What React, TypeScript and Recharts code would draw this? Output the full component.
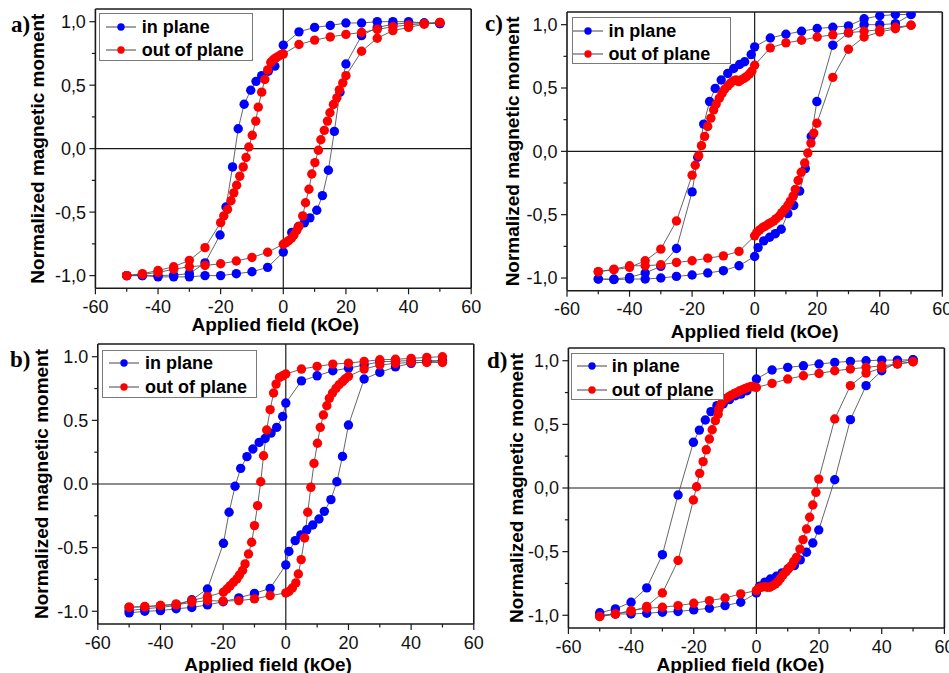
import React from 'react';
import { LineChart, Line, XAxis, YAxis, ReferenceLine, Legend, Label } from 'recharts';

type Pt = [number, number];

// ---------- axis / labels ----------
const xMajor = [-60, -40, -20, 0, 20, 40, 60];
const xMinor = [-50, -30, -10, 10, 30, 50];
const yMajor = [-1, -0.5, 0, 0.5, 1];
const yMinor = [-0.75, -0.25, 0.25, 0.75];
const xDomain: [number, number] = [-60, 60];
const yDomain: [number, number] = [-1.1, 1.1];
const seriesNames = ['in plane', 'out of plane'];
const seriesColors = ['#0000ff', '#ff0000'];
const xTitle = 'Applied field (kOe)';
const yTitle = 'Normalized magnetic moment';
const panelLetters = ['a)', 'b)', 'c)', 'd)'];

// ---------- panel a ----------
const aInDown: Pt[] = [[50,0.985],[45,0.99],[40,1.0],[35,1.0],[30,1.0],[25,0.99],[20,0.99],[15,0.97],[10,0.955],[5,0.92],[0,0.815],[-2.7,0.65],[-4.8,0.61],[-6.9,0.575],[-8.7,0.53],[-10.4,0.46],[-12.5,0.35],[-14.4,0.157],[-16.2,-0.144],[-18.3,-0.46],[-20.2,-0.68],[-25,-0.9],[-30,-0.985],[-35,-0.996],[-40,-1.0],[-45,-1.0],[-50,-1.0]];
const aInUp: Pt[] = [[-50,-1.0],[-45,-1.0],[-40,-1.01],[-35,-1.01],[-30,-1.01],[-25,-1.0],[-20,-1.0],[-15,-0.985],[-10,-0.97],[-5,-0.935],[0,-0.815],[2.7,-0.66],[4.8,-0.615],[6.7,-0.585],[8.5,-0.545],[10.7,-0.485],[12.5,-0.37],[14.4,-0.17],[16.3,0.136],[18.1,0.445],[20,0.667],[25,0.89],[30,0.955],[35,0.98],[40,0.99],[45,0.99],[50,0.985]];
const aOutDown: Pt[] = [[50,0.995],[45,0.985],[40,0.975],[35,0.96],[30,0.94],[25,0.915],[20,0.9],[15,0.88],[10,0.855],[5,0.82],[0,0.745],[-0.8,0.74],[-1.6,0.727],[-2.4,0.715],[-3.2,0.7],[-4.0,0.68],[-5,0.62],[-5.9,0.545],[-6.9,0.445],[-8,0.327],[-8.8,0.217],[-9.9,0.105],[-11,0.013],[-11.9,-0.07],[-12.8,-0.144],[-13.9,-0.217],[-14.9,-0.288],[-15.8,-0.348],[-16.7,-0.41],[-17.8,-0.478],[-19,-0.53],[-20,-0.583],[-25,-0.78],[-30,-0.88],[-35,-0.93],[-40,-0.96],[-45,-0.985],[-50,-1.0]];
const aOutUp: Pt[] = [[-50,-1.0],[-45,-0.99],[-40,-0.975],[-35,-0.95],[-30,-0.93],[-25,-0.92],[-20,-0.907],[-15,-0.885],[-10,-0.857],[-5,-0.816],[0,-0.753],[0.9,-0.74],[1.7,-0.725],[2.6,-0.706],[3.4,-0.68],[4.3,-0.645],[5,-0.61],[6.2,-0.53],[7.1,-0.426],[8.2,-0.32],[9.1,-0.2],[10.1,-0.11],[11.2,-0.013],[12,0.07],[13.1,0.144],[14.1,0.217],[14.9,0.283],[16,0.348],[17.1,0.4],[17.9,0.463],[19,0.518],[20,0.575],[25,0.767],[30,0.87],[35,0.93],[40,0.955],[45,0.98],[50,0.995]];

// ---------- panel b ----------
const bInDown: Pt[] = [[50,0.968],[45,0.97],[40,0.97],[35,0.965],[30,0.96],[25,0.935],[20,0.91],[15,0.89],[10,0.85],[5,0.81],[0,0.636],[-1,0.53],[-2.9,0.445],[-4.7,0.4],[-6.6,0.358],[-8.5,0.327],[-10.5,0.275],[-12.4,0.215],[-14.4,0.123],[-16.2,-0.018],[-18.1,-0.222],[-19.9,-0.466],[-25,-0.825],[-30,-0.91],[-35,-0.955],[-40,-0.97],[-45,-0.98],[-50,-0.995]];
const bInUp: Pt[] = [[-50,-1.013],[-45,-1.0],[-40,-0.995],[-35,-0.98],[-30,-0.97],[-25,-0.95],[-20,-0.925],[-15,-0.895],[-10,-0.86],[-5,-0.82],[0,-0.636],[1,-0.53],[3,-0.445],[4.8,-0.4],[6.7,-0.36],[8.6,-0.322],[10.6,-0.275],[12.3,-0.215],[14.4,-0.123],[16.3,0.018],[18.1,0.217],[20,0.463],[25,0.825],[30,0.877],[35,0.92],[40,0.948],[45,0.96],[50,0.968]];
const bOutDown: Pt[] = [[50,1.0],[45,0.995],[40,0.987],[35,0.98],[30,0.976],[25,0.963],[20,0.95],[15,0.942],[10,0.924],[5,0.903],[0,0.864],[-1,0.85],[-2,0.838],[-3.1,0.785],[-3.9,0.715],[-5,0.584],[-6.1,0.424],[-7.1,0.222],[-8,0.018],[-9,-0.17],[-10,-0.327],[-10.9,-0.458],[-11.9,-0.55],[-13,-0.628],[-13.8,-0.68],[-14.8,-0.715],[-15.6,-0.746],[-16.7,-0.772],[-17.8,-0.8],[-18.8,-0.825],[-19.9,-0.85],[-25,-0.885],[-30,-0.916],[-35,-0.942],[-40,-0.955],[-45,-0.963],[-50,-0.968]];
const bOutUp: Pt[] = [[-50,-0.968],[-45,-0.965],[-40,-0.955],[-35,-0.95],[-30,-0.93],[-25,-0.916],[-20,-0.92],[-15,-0.916],[-10,-0.903],[-5,-0.877],[0,-0.856],[1,-0.845],[2.1,-0.817],[3.2,-0.777],[4,-0.707],[4.9,-0.594],[6,-0.424],[7,-0.222],[8,-0.026],[9,0.162],[10.1,0.32],[11,0.445],[12,0.542],[13.1,0.615],[13.9,0.673],[14.9,0.715],[16,0.751],[17,0.78],[18.1,0.804],[18.9,0.825],[20,0.846],[25,0.903],[30,0.935],[35,0.948],[40,0.955],[45,0.955],[50,0.955]];

// ---------- panel c ----------
const cInDown: Pt[] = [[50,1.08],[45,1.08],[40,1.07],[35,1.047],[30,0.99],[25,0.98],[20,0.97],[15,0.948],[10,0.924],[5,0.895],[0,0.825],[-1.1,0.764],[-3.2,0.707],[-4.8,0.686],[-6.7,0.654],[-8.6,0.615],[-10.7,0.563],[-12.6,0.497],[-14.4,0.393],[-16.3,0.215],[-18.2,-0.047],[-20,-0.32],[-25,-0.767],[-30,-0.908],[-35,-0.96],[-40,-0.995],[-45,-1.008],[-50,-1.008]];
const cInUp: Pt[] = [[-50,-1.008],[-45,-1.013],[-40,-1.008],[-35,-1.008],[-30,-1.0],[-25,-0.987],[-20,-0.976],[-15,-0.96],[-10,-0.942],[-5,-0.903],[0,-0.83],[1.1,-0.76],[2.9,-0.707],[4.8,-0.678],[6.6,-0.65],[8.5,-0.615],[10.6,-0.492],[12.5,-0.427],[14.4,-0.314],[16.2,-0.136],[18.1,0.118],[19.9,0.393],[25,0.838],[30,0.935],[35,1.0],[40,1.0],[45,1.008],[50,1.08]];
const cOutDown: Pt[] = [[50,0.995],[45,0.98],[40,0.96],[35,0.948],[30,0.937],[25,0.92],[20,0.903],[15,0.877],[10,0.856],[5,0.817],[0,0.68],[-0.9,0.633],[-1.7,0.61],[-2.6,0.59],[-3.4,0.576],[-4.4,0.563],[-5.1,0.55],[-6,0.563],[-6.9,0.555],[-7.8,0.537],[-8.6,0.516],[-9.6,0.49],[-10.4,0.458],[-11.3,0.42],[-12.3,0.374],[-13.1,0.327],[-14,0.262],[-15,0.196],[-16,0.118],[-17,0.045],[-17.9,-0.034],[-19,-0.11],[-20,-0.188],[-25,-0.55],[-30,-0.772],[-35,-0.864],[-40,-0.916],[-45,-0.935],[-50,-0.95]];
const cOutUp: Pt[] = [[-50,-0.95],[-45,-0.93],[-40,-0.903],[-35,-0.903],[-30,-0.895],[-25,-0.877],[-20,-0.864],[-15,-0.843],[-10,-0.825],[-5,-0.79],[0,-0.667],[0.7,-0.64],[1.6,-0.62],[2.6,-0.6],[3.4,-0.59],[4.3,-0.576],[5.2,-0.563],[6.1,-0.55],[6.9,-0.531],[7.9,-0.51],[8.7,-0.484],[9.6,-0.458],[10.6,-0.427],[11.4,-0.393],[12.3,-0.353],[13,-0.3],[13.9,-0.23],[14.9,-0.165],[16,-0.092],[17,-0.013],[18,0.065],[18.9,0.144],[19.9,0.222],[25,0.584],[30,0.806],[35,0.903],[40,0.942],[45,0.968],[50,0.995]];

// ---------- panel d ----------
const dInDown: Pt[] = [[50,1.008],[45,1.005],[40,1.005],[35,1.0],[30,0.995],[25,0.987],[20,0.974],[15,0.96],[10,0.948],[5,0.927],[0,0.856],[-3,0.764],[-4.9,0.738],[-6.7,0.725],[-8.6,0.694],[-10.6,0.66],[-12.6,0.647],[-14.5,0.6],[-16.3,0.534],[-18.2,0.455],[-20.1,0.359],[-25,-0.055],[-30,-0.524],[-35,-0.785],[-40,-0.898],[-45,-0.95],[-50,-0.98]];
const dInUp: Pt[] = [[-50,-1.0],[-45,-0.99],[-40,-0.99],[-35,-0.984],[-30,-0.976],[-25,-0.97],[-20,-0.958],[-15,-0.945],[-10,-0.924],[-5,-0.898],[0,-0.825],[1,-0.772],[2.7,-0.74],[4.5,-0.715],[6.4,-0.694],[8.2,-0.667],[10.1,-0.636],[12.1,-0.61],[14,-0.565],[16,-0.505],[18,-0.432],[19.9,-0.33],[25,0.065],[30,0.537],[35,0.804],[40,0.921],[45,0.987],[50,1.008]];
const dOutDown: Pt[] = [[50,0.992],[45,0.974],[40,0.96],[35,0.948],[30,0.935],[25,0.921],[20,0.9],[15,0.882],[10,0.856],[5,0.822],[0,0.79],[-0.9,0.796],[-1.7,0.798],[-2.7,0.79],[-3.5,0.783],[-4.4,0.772],[-5.3,0.764],[-6.2,0.751],[-7,0.743],[-8,0.73],[-8.8,0.717],[-9.7,0.704],[-10.6,0.686],[-11.3,0.66],[-12,0.62],[-12.2,0.58],[-13.1,0.529],[-14.1,0.458],[-15,0.385],[-16,0.3],[-17,0.207],[-18.1,0.115],[-19.1,0.01],[-20.1,-0.094],[-25,-0.57],[-30,-0.825],[-35,-0.93],[-40,-0.97],[-45,-0.99],[-50,-1.01]];
const dOutUp: Pt[] = [[-50,-1.01],[-45,-0.99],[-40,-0.963],[-35,-0.945],[-30,-0.937],[-25,-0.924],[-20,-0.906],[-15,-0.885],[-10,-0.864],[-5,-0.832],[0,-0.806],[0.7,-0.788],[1.6,-0.78],[2.6,-0.775],[3.4,-0.78],[4.3,-0.78],[5.2,-0.767],[6.1,-0.754],[6.9,-0.736],[7.7,-0.71],[8.5,-0.683],[9.5,-0.657],[10.3,-0.631],[11.2,-0.61],[11.9,-0.578],[12.8,-0.545],[13.9,-0.48],[14.9,-0.406],[16,-0.322],[17,-0.23],[18,-0.134],[19,-0.034],[19.9,0.07],[25,0.542],[30,0.804],[35,0.903],[40,0.942],[45,0.974],[50,0.992]];

// ---------- styling ----------
const SANS = '"Liberation Sans", Arial, Helvetica, sans-serif';
const SERIF = '"Liberation Serif", "Times New Roman", serif';
const AXIS = '#1a1a1a';

const toLoop = (down: Pt[], up: Pt[]) => [...down, ...up].map(([x, y]) => ({ x, y }));

type Cfg = {
  L: number; R: number; T: number; B: number;
  yTitleX: number; xTitleOff: number; xTitleDx: number;
  dec: string;
  leg: { left: number; top: number; w: number; h: number; sym: number; text: number };
  letter: { x: number; y: number };
  inLoop: { x: number; y: number }[];
  outLoop: { x: number; y: number }[];
};

const panels: Cfg[] = [
  { L: 95.7, R: 471.5, T: 9, B: 288.3, yTitleX: 37.5, xTitleOff: 35.5, xTitleDx: -8, dec: ',',
    leg: { left: 99.3, top: 13.3, w: 154, h: 47.4, sym: 7, text: 42.4 }, letter: { x: 11, y: 31.5 },
    inLoop: toLoop(aInDown, aInUp), outLoop: toLoop(aOutDown, aOutUp) },
  { L: 97.7, R: 473.7, T: 344.3, B: 624.3, yTitleX: 40.8, xTitleOff: 40.2, xTitleDx: -17.7, dec: '.',
    leg: { left: 101.7, top: 350, w: 155.6, h: 47.7, sym: 7.3, text: 43.3 }, letter: { x: 10, y: 367 },
    inLoop: toLoop(bInDown, bInUp), outLoop: toLoop(bOutDown, bOutUp) },
  { L: 566.7, R: 942, T: 12.3, B: 291, yTitleX: 511.7, xTitleOff: 40.5, xTitleDx: 0, dec: ',',
    leg: { left: 571.7, top: 17.3, w: 159.3, h: 46.7, sym: 1.3, text: 36.7 }, letter: { x: 485, y: 30.5 },
    inLoop: toLoop(cInDown, cInUp), outLoop: toLoop(cOutDown, cOutUp) },
  { L: 568, R: 944, T: 348.3, B: 628.3, yTitleX: 516.3, xTitleOff: 36.2, xTitleDx: -16, dec: ',',
    leg: { left: 570.7, top: 352.7, w: 153.6, h: 47.3, sym: 6, text: 41 }, letter: { x: 487, y: 368 },
    inLoop: toLoop(dInDown, dInUp), outLoop: toLoop(dOutDown, dOutUp) },
];

const xTicks = [...xMajor, ...xMinor].sort((a, b) => a - b);
const yTicks = [...yMajor, ...yMinor].sort((a, b) => a - b);

const XTick = (props: any) => {
  const { x, y, payload } = props;
  const v = payload.value;
  const major = xMajor.includes(v);
  return (
    <g>
      <line x1={x} y1={y} x2={x} y2={y + (major ? 6 : 3.5)} stroke={AXIS} strokeWidth={1.2} />
      {major && (
        <text x={x} y={y + 12} dy="0.71em" textAnchor="middle" fontSize={18} fontFamily={SANS} fill="#111">
          {String(v)}
        </text>
      )}
    </g>
  );
};

const makeYTick = (dec: string) => (props: any) => {
  const { x, y, payload } = props;
  const v = payload.value;
  const major = yMajor.some((m) => Math.abs(m - v) < 1e-9);
  return (
    <g>
      <line x1={x - (major ? 6 : 3.5)} y1={y} x2={x} y2={y} stroke={AXIS} strokeWidth={1.2} />
      {major && (
        <text x={x - 9.5} y={y} dy="0.355em" textAnchor="end" fontSize={18} fontFamily={SANS} fill="#111">
          {v.toFixed(1).replace('.', dec)}
        </text>
      )}
    </g>
  );
};

const LegendBox = ({ leg }: { leg: Cfg['leg'] }) => (
  <div
    style={{
      position: 'relative', width: leg.w, height: leg.h, boxSizing: 'border-box',
      border: '1px solid #7a7a7a', background: '#fff',
      fontFamily: SANS, fontWeight: 'bold', fontSize: 18, color: '#000',
    }}
  >
    {seriesNames.map((n, i) => {
      const cy = i === 0 ? 13.4 : 37.2;
      return (
        <React.Fragment key={n}>
          <svg width={32} height={12} style={{ position: 'absolute', left: leg.sym - 1, top: cy - 7 }}>
            <line x1={0} y1={6} x2={30} y2={6} stroke="#444" strokeWidth={1} />
            <circle cx={15} cy={6} r={3.7} fill={seriesColors[i]} />
          </svg>
          <span style={{ position: 'absolute', left: leg.text - 1, top: cy - 13, lineHeight: '24px', whiteSpace: 'nowrap' }}>
            {n}
          </span>
        </React.Fragment>
      );
    })}
  </div>
);

const Panel = ({ cfg }: { cfg: Cfg }) => {
  const yW = 2 * (cfg.L - cfg.yTitleX);
  const xH = 2 * cfg.xTitleOff;
  const divLeft = cfg.L - yW;
  const divTop = cfg.T - 4;
  const width = cfg.R + 20 - divLeft;
  const height = cfg.B + xH + 2 - divTop;
  const YTick = makeYTick(cfg.dec);
  return (
    <div style={{ position: 'absolute', left: divLeft, top: divTop }}>
      <LineChart width={width} height={height} margin={{ top: 4, left: 0, right: 20, bottom: 2 }}>
        <XAxis
          type="number" dataKey="x" domain={xDomain} ticks={xTicks} allowDataOverflow
          height={xH} tickSize={0} tickMargin={0} tickLine={false} tick={<XTick />}
          axisLine={{ stroke: AXIS, strokeWidth: 1.6 }} interval={0}
        >
          <Label value={xTitle} position="center" dx={cfg.xTitleDx} fontSize={19} fontWeight="bold" fontFamily={SANS} fill="#000" />
        </XAxis>
        <YAxis
          type="number" domain={yDomain} ticks={yTicks} allowDataOverflow
          width={yW} tickSize={0} tickMargin={0} tickLine={false} tick={<YTick />}
          axisLine={{ stroke: AXIS, strokeWidth: 1.6 }} interval={0}
        >
          <Label value={yTitle} position="center" angle={-90} fontSize={19} fontWeight="bold" fontFamily={SANS} fill="#000" />
        </YAxis>
        <ReferenceLine y={yDomain[1]} stroke={AXIS} strokeWidth={1.6} />
        <ReferenceLine x={xDomain[1]} stroke={AXIS} strokeWidth={1.6} />
        <ReferenceLine y={0} stroke={AXIS} strokeWidth={1.2} />
        <ReferenceLine x={0} stroke={AXIS} strokeWidth={1.2} />
        <Line
          data={cfg.inLoop} dataKey="y" name={seriesNames[0]} type="linear"
          stroke="#555" strokeWidth={0.9} isAnimationActive={false} activeDot={false}
          dot={{ r: 4.7, fill: seriesColors[0], stroke: seriesColors[0], strokeWidth: 0 }}
        />
        <Line
          data={cfg.outLoop} dataKey="y" name={seriesNames[1]} type="linear"
          stroke="#555" strokeWidth={0.9} isAnimationActive={false} activeDot={false}
          dot={{ r: 4.7, fill: seriesColors[1], stroke: seriesColors[1], strokeWidth: 0 }}
        />
        <Legend
          layout="vertical" align="center" verticalAlign="middle"
          wrapperStyle={{ left: cfg.leg.left - divLeft, top: cfg.leg.top - divTop, width: 'auto', height: 'auto', margin: 0 }}
          content={() => <LegendBox leg={cfg.leg} />}
        />
      </LineChart>
    </div>
  );
};

export default function App() {
  return (
    <div style={{ position: 'absolute', left: 0, top: 0, width: 949, height: 673, overflow: 'hidden', background: '#fff' }}>
      {panels.map((p, i) => (
        <Panel key={panelLetters[i]} cfg={p} />
      ))}
      <svg width={949} height={673} style={{ position: 'absolute', left: 0, top: 0, pointerEvents: 'none' }}>
        {panels.map((p, i) => (
          <text key={panelLetters[i]} x={p.letter.x} y={p.letter.y} fontFamily={SERIF} fontWeight="bold" fontSize={23} fill="#000">
            {panelLetters[i]}
          </text>
        ))}
      </svg>
    </div>
  );
}
